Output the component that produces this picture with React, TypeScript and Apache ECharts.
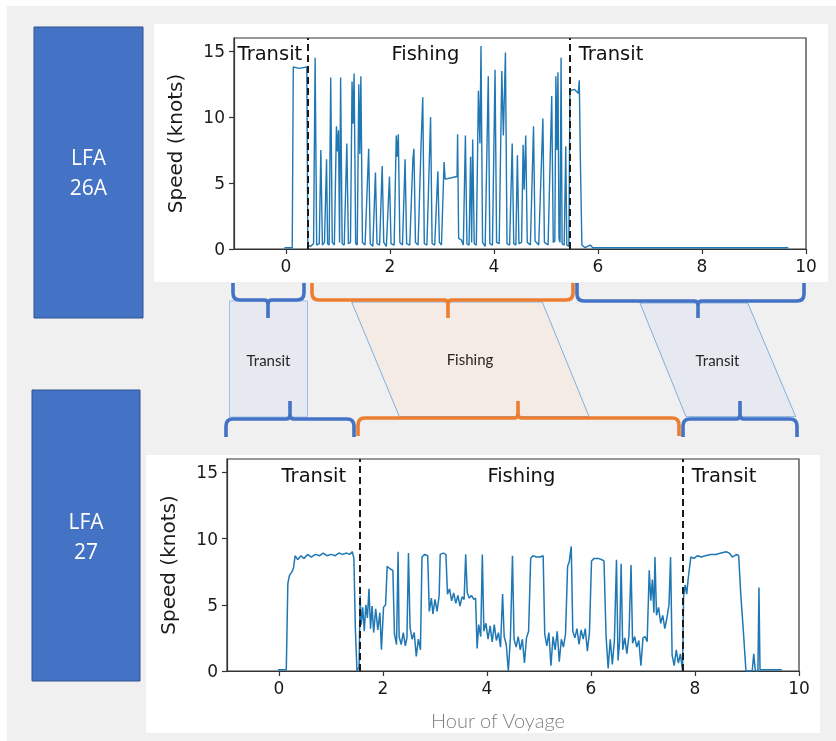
import React, { useEffect, useRef } from "react";
import * as echarts from "echarts";

// ---------- DATA ----------
const xTicks = [0, 2, 4, 6, 8, 10];
const yTicks = [0, 5, 10, 15];
const phaseNames = ["Transit", "Fishing", "Transit"];

// LFA 26A voyage (top panel)
const lfa26aHours = [
  -0.03, 0.12, 0.14, 0.25, 0.40, 0.42, 0.47, 0.53, 0.56, 0.59, 0.64, 0.67, 0.70, 0.74, 0.78, 0.80, 0.83, 0.86, 0.89, 0.93,
  0.97, 0.99, 1.01, 1.03, 1.05, 1.08, 1.12, 1.17, 1.20, 1.24, 1.27, 1.29, 1.31, 1.34, 1.37, 1.40, 1.42, 1.44, 1.47, 1.52,
  1.59, 1.62, 1.67, 1.72, 1.75, 1.80, 1.85, 1.88, 1.93, 1.99, 2.02, 2.08, 2.12, 2.14, 2.16, 2.19, 2.24, 2.29, 2.32, 2.38,
  2.44, 2.46, 2.49, 2.54, 2.60, 2.63, 2.66, 2.71, 2.78, 2.81, 2.86, 2.92, 2.95, 2.99, 3.04, 3.06, 3.18, 3.29, 3.30, 3.32,
  3.37, 3.41, 3.45, 3.48, 3.52, 3.55, 3.57, 3.59, 3.62, 3.66, 3.70, 3.73, 3.75, 3.78, 3.83, 3.89, 3.92, 3.97, 4.02, 4.05,
  4.10, 4.15, 4.18, 4.22, 4.25, 4.30, 4.35, 4.38, 4.42, 4.45, 4.48, 4.53, 4.56, 4.58, 4.61, 4.64, 4.70, 4.76, 4.79, 4.86,
  4.94, 4.97, 5.04, 5.11, 5.14, 5.17, 5.19, 5.21, 5.23, 5.25, 5.27, 5.29, 5.31, 5.35, 5.38, 5.40, 5.44, 5.46, 5.55, 5.62,
  5.64, 5.66, 5.69, 5.75, 5.85, 5.90, 9.66,
];
const lfa26aSpeed = [
  0.1, 0.1, 13.8, 13.7, 13.8, 0.3, 0.2, 0.4, 14.5, 0.3, 0.4, 7.5, 0.3, 0.5, 6.8, 0.4, 0.3, 13.0, 0.5, 0.3,
  9.3, 7.4, 9.0, 0.5, 13.0, 0.4, 0.3, 8.0, 0.4, 0.5, 12.7, 9.5, 13.3, 0.4, 0.3, 12.5, 7.2, 13.1, 0.5, 0.3,
  7.6, 0.4, 0.2, 5.8, 0.4, 0.3, 6.3, 0.5, 0.2, 5.5, 0.4, 0.3, 8.6, 7.0, 8.7, 0.5, 0.3, 6.8, 0.4, 0.3,
  6.8, 7.6, 0.5, 0.3, 8.2, 11.5, 0.4, 0.3, 10.0, 0.4, 0.3, 5.9, 0.5, 0.3, 6.6, 5.3, 5.4, 5.5, 8.7, 0.8,
  0.7, 0.3, 8.6, 0.4, 0.3, 7.0, 0.5, 8.3, 0.4, 0.3, 12.0, 8.0, 15.4, 0.5, 0.2, 13.1, 0.4, 0.3, 13.6, 0.5,
  0.4, 13.5, 8.6, 14.9, 0.4, 0.3, 8.0, 0.4, 0.3, 7.1, 0.4, 0.5, 7.9, 4.5, 8.6, 0.5, 0.3, 9.3, 0.6, 0.3,
  9.9, 0.5, 0.3, 11.6, 0.5, 0.6, 13.1, 7.5, 13.4, 0.8, 0.5, 14.5, 0.4, 0.3, 7.8, 0.3, 0.2, 12.0, 12.1, 11.8,
  12.8, 7.0, 0.3, 0.1, 0.3, 0.1, 0.1,
];
const lfa26aBoundaries = [0.415, 5.45];
const lfa26aLabelHours = [-0.3, 2.69, 6.26];

// LFA 27 voyage (bottom panel)
const lfa27Hours = [
  -0.02, 0.14, 0.17, 0.20, 0.25, 0.28, 0.31, 0.36, 0.42, 0.48, 0.55, 0.62, 0.70, 0.78, 0.85, 0.92, 1.00, 1.08, 1.15, 1.22,
  1.30, 1.36, 1.41, 1.44, 1.47, 1.50, 1.54, 1.56, 1.58, 1.61, 1.64, 1.67, 1.70, 1.73, 1.76, 1.79, 1.82, 1.86, 1.90, 1.94,
  1.97, 2.01, 2.05, 2.08, 2.14, 2.19, 2.22, 2.26, 2.29, 2.31, 2.35, 2.39, 2.43, 2.46, 2.49, 2.52, 2.56, 2.60, 2.64, 2.68,
  2.72, 2.75, 2.80, 2.86, 2.89, 2.93, 2.96, 3.00, 3.04, 3.08, 3.10, 3.16, 3.21, 3.24, 3.28, 3.32, 3.36, 3.40, 3.44, 3.48,
  3.52, 3.56, 3.59, 3.62, 3.66, 3.70, 3.75, 3.78, 3.81, 3.84, 3.88, 3.91, 3.94, 3.98, 4.02, 4.06, 4.10, 4.14, 4.18, 4.22,
  4.26, 4.30, 4.33, 4.37, 4.41, 4.45, 4.49, 4.52, 4.56, 4.60, 4.64, 4.68, 4.72, 4.76, 4.80, 4.84, 4.88, 4.95, 5.02, 5.08,
  5.11, 5.15, 5.19, 5.23, 5.27, 5.31, 5.35, 5.39, 5.43, 5.47, 5.51, 5.55, 5.58, 5.62, 5.65, 5.69, 5.73, 5.77, 5.81, 5.85,
  5.89, 5.93, 5.97, 6.01, 6.06, 6.14, 6.21, 6.25, 6.29, 6.33, 6.37, 6.41, 6.45, 6.49, 6.52, 6.55, 6.58, 6.61, 6.65, 6.69,
  6.73, 6.77, 6.80, 6.84, 6.88, 6.92, 6.96, 7.00, 7.04, 7.08, 7.12, 7.15, 7.18, 7.21, 7.23, 7.26, 7.30, 7.34, 7.38, 7.42,
  7.46, 7.50, 7.53, 7.56, 7.60, 7.64, 7.68, 7.72, 7.76, 7.78, 7.81, 7.84, 7.87, 7.92, 7.98, 8.05, 8.12, 8.20, 8.30, 8.40,
  8.50, 8.60, 8.66, 8.72, 8.80, 8.84, 8.88, 8.93, 8.98, 9.10, 9.13, 9.16, 9.21, 9.23, 9.25, 9.67,
];
const lfa27Speed = [
  0.1, 0.1, 6.6, 7.2, 7.5, 7.8, 8.7, 8.4, 8.7, 8.5, 8.8, 8.6, 8.8, 8.7, 8.9, 8.7, 8.8, 8.7, 8.9, 8.8,
  8.9, 8.8, 9.0, 8.5, 3.0, 0.0, 0.3, 5.7, 3.5, 4.8, 3.0, 5.0, 4.0, 6.2, 3.2, 4.9, 2.9, 4.7, 3.1, 4.4,
  1.6, 4.8, 5.0, 7.9, 7.7, 7.6, 2.8, 2.0, 9.0, 2.6, 2.0, 2.9, 1.9, 2.5, 8.9, 3.3, 2.4, 2.9, 1.1, 2.4,
  1.6, 8.6, 8.8, 8.7, 4.5, 5.5, 4.3, 5.4, 4.5, 5.7, 8.8, 8.9, 8.8, 5.8, 6.2, 5.3, 5.9, 5.1, 5.7, 4.9,
  5.6, 5.4, 8.8, 5.9, 5.5, 5.7, 5.4, 5.5, 1.7, 3.5, 2.6, 8.8, 3.0, 3.6, 2.4, 3.4, 2.2, 3.5, 2.3, 2.9,
  1.8, 5.8, 2.6, 2.0, 0.0, 2.5, 8.7, 2.4, 1.8, 2.6, 1.6, 2.4, 0.6, 2.5, 3.0, 8.5, 8.7, 8.6, 8.6, 8.7,
  2.8, 1.9, 2.9, 0.4, 2.6, 1.6, 3.0, 0.7, 2.4, 1.8, 2.8, 7.9, 8.2, 9.4, 3.0, 2.5, 3.2, 2.0, 3.1, 2.4,
  3.2, 1.5, 2.9, 8.3, 8.5, 8.5, 8.4, 8.3, 2.6, 0.2, 2.4, 0.5, 2.3, 8.4, 0.8, 2.2, 8.1, 1.6, 2.5, 1.3,
  2.7, 8.0, 2.1, 2.6, 1.8, 2.3, 0.4, 2.5, 2.6, 2.2, 7.6, 5.3, 6.9, 4.4, 8.6, 4.2, 4.8, 3.6, 4.2, 3.2,
  4.0, 5.0, 8.6, 1.2, 0.4, 1.6, 0.6, 1.3, 0.0, 5.6, 6.5, 5.8, 7.0, 8.6, 8.5, 8.7, 8.6, 8.7, 8.8, 8.8,
  8.9, 9.0, 8.9, 8.6, 8.8, 8.7, 5.8, 3.0, 0.0, 0.0, 1.3, 0.0, 0.0, 6.3, 0.1, 0.1,
];
const lfa27Boundaries = [1.55, 7.77];
const lfa27LabelHours = [0.68, 4.67, 8.57];
const labelSpeed = 14.75;

// ---------- CUSTOM SHAPE: curly brace ----------
const Brace = echarts.graphic.extendShape({
  type: "brace",
  shape: { x1: 0, x2: 0, xm: 0, yEnd: 0, yLine: 0, yTip: 0 },
  buildPath(ctx: any, s: any) {
    const d = s.yLine > s.yEnd ? 1 : -1;
    const c = 7;
    const t = 4;
    ctx.moveTo(s.x1, s.yEnd);
    ctx.lineTo(s.x1, s.yLine - d * c);
    ctx.quadraticCurveTo(s.x1, s.yLine, s.x1 + c, s.yLine);
    ctx.lineTo(s.xm - t, s.yLine);
    ctx.quadraticCurveTo(s.xm, s.yLine, s.xm, s.yLine + d * t);
    ctx.lineTo(s.xm, s.yTip);
    ctx.moveTo(s.xm, s.yLine + d * t);
    ctx.quadraticCurveTo(s.xm, s.yLine, s.xm + t, s.yLine);
    ctx.lineTo(s.x2 - c, s.yLine);
    ctx.quadraticCurveTo(s.x2, s.yLine, s.x2, s.yLine - d * c);
    ctx.lineTo(s.x2, s.yEnd);
  },
});
echarts.graphic.registerShape("brace", Brace);

const BLUE = "#4472c4";
const ORANGE = "#ed7d31";
const TXT = "#1a1a1a";
const MPL = "DejaVu Sans";

function brace(x1: number, x2: number, xm: number, yEnd: number, yLine: number, yTip: number, color: string) {
  return {
    type: "brace",
    z: 60,
    silent: true,
    shape: { x1, x2, xm, yEnd, yLine, yTip },
    style: { stroke: color, lineWidth: 3.6, fill: "none" },
  };
}

function xAxisCfg(gridIndex: number) {
  return {
    type: "value",
    gridIndex,
    min: -1,
    max: 10,
    axisLine: { show: true, onZero: false, lineStyle: { color: "#333", width: 1.2 } },
    axisTick: { show: true, inside: false, length: 5, customValues: xTicks, lineStyle: { color: "#333", width: 1.2 } },
    axisLabel: { customValues: xTicks, color: TXT, fontSize: 17, fontFamily: MPL, margin: 8 },
    splitLine: { show: false },
  };
}

function yAxisCfg(gridIndex: number) {
  return {
    type: "value",
    gridIndex,
    min: 0,
    max: 16,
    name: "Speed (knots)",
    nameLocation: "middle",
    nameRotate: 90,
    nameGap: 49,
    nameTextStyle: { fontSize: 20, fontFamily: MPL, color: TXT },
    axisLine: { show: true, onZero: false, lineStyle: { color: "#333", width: 1.2 } },
    axisTick: { show: true, inside: false, length: 5, customValues: yTicks, lineStyle: { color: "#333", width: 1.2 } },
    axisLabel: { customValues: yTicks, color: TXT, fontSize: 17, fontFamily: MPL, margin: 9 },
    splitLine: { show: false },
  };
}

function lineSeries(idx: number, hours: number[], speed: number[], bounds: number[], width: number) {
  return {
    type: "line",
    xAxisIndex: idx,
    yAxisIndex: idx,
    data: hours.map((h, i) => [h, speed[i]]),
    showSymbol: false,
    symbol: "none",
    lineStyle: { color: "#1f77b4", width },
    itemStyle: { color: "#1f77b4" },
    z: 3,
    markLine: {
      silent: true,
      symbol: "none",
      label: { show: false },
      lineStyle: { color: "#1a1a1a", type: [7, 4], width: 2 },
      data: bounds.map((b) => ({ xAxis: b })),
    },
  };
}

function labelSeries(idx: number, hours: number[]) {
  return {
    type: "scatter",
    xAxisIndex: idx,
    yAxisIndex: idx,
    silent: true,
    symbol: "circle",
    symbolSize: 1,
    itemStyle: { color: "#ffffff", opacity: 0 },
    z: 5,
    label: {
      show: true,
      position: [0, 0],
      align: "center",
      verticalAlign: "middle",
      formatter: "{b}",
      color: "#111111",
      opacity: 1,
      textBorderWidth: 0,
      fontSize: 19.5,
      fontFamily: MPL,
    },
    data: hours.map((h, i) => ({ name: phaseNames[i], value: [h, labelSpeed] })),
  };
}

export default function App() {
  const ref = useRef<HTMLDivElement>(null);
  useEffect(() => {
    if (!ref.current) return;
    const chart = echarts.init(ref.current, null, { renderer: "svg" });
    const boxText = (text: string, x: number, y: number) => ({
      type: "text",
      x,
      y,
      z: 20,
      silent: true,
      style: {
        text,
        align: "center",
        verticalAlign: "middle",
        fill: "#fff",
        fontSize: 21,
        lineHeight: 30,
        fontFamily: "Open Sans",
      },
    });
    const smallText = (text: string, x: number, y: number) => ({
      type: "text",
      x,
      y,
      z: 45,
      silent: true,
      style: { text, align: "center", verticalAlign: "middle", fill: "#262626", fontSize: 15, fontFamily: "Lato" },
    });
    chart.setOption({
      animation: false,
      graphic: {
        elements: [
          { type: "rect", z: -20, silent: true, shape: { x: 7, y: 6, width: 829, height: 735 }, style: { fill: "#f0f0f0" } },
          { type: "rect", z: -10, silent: true, shape: { x: 154, y: 24, width: 674, height: 258 }, style: { fill: "#ffffff" } },
          { type: "rect", z: -10, silent: true, shape: { x: 146, y: 455, width: 674, height: 278 }, style: { fill: "#ffffff" } },
          { type: "rect", z: 10, silent: true, shape: { x: 34, y: 27, width: 109, height: 291 }, style: { fill: BLUE, stroke: "#2f528f", lineWidth: 1 } },
          { type: "rect", z: 10, silent: true, shape: { x: 32, y: 390, width: 108, height: 291 }, style: { fill: BLUE, stroke: "#2f528f", lineWidth: 1 } },
          boxText("LFA\n26A", 88.5, 172),
          boxText("LFA\n27", 86, 535.5),
          { type: "rect", z: 30, silent: true, shape: { x: 229.5, y: 301, width: 78, height: 116 }, style: { fill: "#e6e9f0", stroke: "#9cc2ea", lineWidth: 1 } },
          {
            type: "polygon",
            z: 30,
            silent: true,
            shape: { points: [[351.7, 302], [542.3, 302], [589, 416.5], [399.3, 416.5]] },
            style: { fill: "#f5ebe5", stroke: "#7fb0e0", lineWidth: 1 },
          },
          {
            type: "polygon",
            z: 30,
            silent: true,
            shape: { points: [[640, 303], [747.7, 303], [795.7, 416.7], [686, 416.7]] },
            style: { fill: "#e6e9f0", stroke: "#7fb0e0", lineWidth: 1 },
          },
          smallText("Transit", 268.5, 360),
          smallText("Fishing", 470, 358.5),
          smallText("Transit", 717.5, 360),
          brace(233, 304, 268, 283, 300, 318, BLUE),
          brace(312, 573, 448, 283, 300, 318, ORANGE),
          brace(577, 804, 698, 283, 301, 318, BLUE),
          brace(226, 354, 290, 437, 419, 401, BLUE),
          brace(358, 679, 518, 436, 418, 401, ORANGE),
          brace(683, 797, 740, 437, 419, 401, BLUE),
          {
            type: "text",
            x: 498,
            y: 720,
            z: 20,
            silent: true,
            style: { text: "Hour of Voyage", align: "center", verticalAlign: "middle", fill: "#7f7f7f", fontSize: 20, fontWeight: 300, fontFamily: "Lato" },
          },
        ],
      },
      grid: [
        { left: 234, top: 38, width: 572, height: 211, show: true, backgroundColor: "transparent", borderColor: "#333", borderWidth: 1.2, outerBoundsMode: "none" },
        { left: 227, top: 459, width: 572, height: 212, show: true, backgroundColor: "transparent", borderColor: "#333", borderWidth: 1.2, outerBoundsMode: "none" },
      ],
      xAxis: [xAxisCfg(0), xAxisCfg(1)],
      yAxis: [yAxisCfg(0), yAxisCfg(1)],
      series: [
        lineSeries(0, lfa26aHours, lfa26aSpeed, lfa26aBoundaries, 1.4),
        lineSeries(1, lfa27Hours, lfa27Speed, lfa27Boundaries, 1.5),
        labelSeries(0, lfa26aLabelHours),
        labelSeries(1, lfa27LabelHours),
      ],
    });
    return () => chart.dispose();
  }, []);
  return <div ref={ref} style={{ position: "fixed", left: 0, top: 0, width: 836, height: 741 }} />;
}
